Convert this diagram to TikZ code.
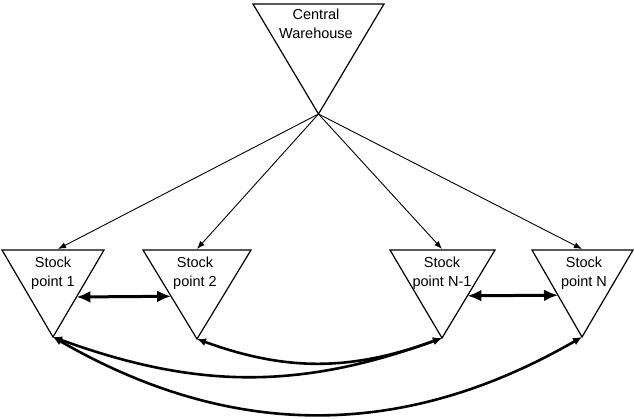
\documentclass[tikz,border=0pt]{standalone}
\usepackage{fontspec}
\setmainfont{Liberation Sans}
\usetikzlibrary{arrows.meta,calc}

\tikzset{
  tri/.style={line width=1.2pt, line join=miter},
  label/.style={align=center, inner sep=0pt, font=\fontsize{14.5}{19}\selectfont},
  feed/.style={line width=0.9pt, -{Latex[length=8pt,width=6pt]}},
  lateral/.style={line width=3pt, {Latex[length=14pt,width=12pt]}-{Latex[length=14pt,width=12pt]}},
  link/.style={line width=2.6pt, {Latex[length=9pt,width=8pt]}-{Latex[length=9pt,width=8pt]}},
}

\begin{document}
\begin{tikzpicture}[x=1pt,y=-1pt]
\useasboundingbox (0,0) rectangle (634,418);

% corner points of the triangles: l = left, r = right, a = apex
\coordinate (Cl) at (253,4);   \coordinate (Cr) at (384,4);   \coordinate (Ca) at (318.5,114);
\coordinate (S1l) at (2,250);  \coordinate (S1r) at (104,250); \coordinate (S1a) at (53,337);
\coordinate (S2l) at (143,250);\coordinate (S2r) at (251,250); \coordinate (S2a) at (197,339);
\coordinate (S3l) at (390,250);\coordinate (S3r) at (495,250); \coordinate (S3a) at (442,338);
\coordinate (S4l) at (532,250);\coordinate (S4r) at (633,250); \coordinate (S4a) at (582,337);

% inverted triangles
\foreach \t in {C,S1,S2,S3,S4}
  \draw[tri] (\t l) -- (\t r) -- (\t a) -- cycle;

% labels
\node[label] (tC)  at (316,24)  {Central\\Warehouse};
\node[label] (tS1) at (53,273)  {Stock\\point 1};
\node[label] (tS2) at (195,273) {Stock\\point 2};
\node[label] (tS3) at (442,273) {Stock\\point N-1};
\node[label] (tS4) at (584,273) {Stock\\point N};

% entry points on the top edges
\coordinate (S1t) at (58,249);
\coordinate (S2t) at (197,249);
\coordinate (S3t) at (442,249);
\coordinate (S4t) at (582,249);

% supply from the central warehouse
\foreach \t in {S1t,S2t,S3t,S4t}
  \draw[feed] (Ca) -- (\t);

% lateral transshipment between neighbours
\draw[lateral] ($(S1r)!0.54!(S1a)$) -- ($(S2l)!0.52!(S2a)$);
\draw[lateral] ($(S3r)!0.52!(S3a)$) -- ($(S4l)!0.52!(S4a)$);

% transshipment links between distant stock points
\draw[link] (S2a) to[out=-20,in=-160] (S3a);
\draw[link] (S1a) to[out=-20,in=-160] (S3a);
\draw[link] (S1a) to[out=-30,in=-150] (S4a);
\end{tikzpicture}
\end{document}
